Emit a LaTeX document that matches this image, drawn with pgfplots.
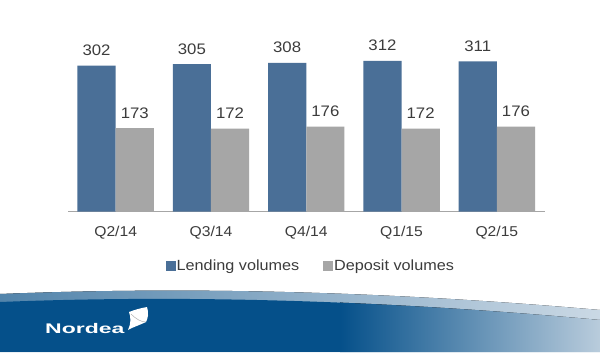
\documentclass[border=0pt]{standalone}
\usepackage{pgfplots}
\pgfplotsset{compat=1.18}
\usepackage{fontspec}
\setmainfont{Liberation Sans}[FakeStretch=1.1]
\newfontfamily\logofont{Liberation Sans}
\definecolor{lend}{HTML}{4A6F97}
\definecolor{depo}{HTML}{A6A6A6}
\definecolor{txt}{HTML}{3C3C3C}
\definecolor{nblue}{HTML}{05508A}
\definecolor{nlight}{HTML}{B9CCDC}
\definecolor{nstripe}{HTML}{5284AB}
\begin{document}
\begin{tikzpicture}[x=1bp,y=1bp]
\path[use as bounding box, fill=white] (0,0) rectangle (600,352);
% footer band
\begin{scope}
\clip (0,0) -- (0,58) .. controls (150,64) and (350,64) .. (600,42) -- (600,0) -- cycle;
\fill[left color=nstripe, right color=nlight!75!white] (0,0) rectangle (600,70);
\begin{scope}
\clip (0,0) -- (0,50) .. controls (150,56) and (350,55) .. (600,32) -- (600,0) -- cycle;
\fill[nblue] (0,0) rectangle (341,70);
\fill[left color=nblue, right color=nlight] (340,0) rectangle (600,70);
\end{scope}
\end{scope}
\node[anchor=base west, text=white, inner sep=0, font=\logofont\bfseries\fontsize{14}{14}\selectfont] at (45,19) {\scalebox{1.65}[1]{Nordea}};
\fill[white] (129,40) .. controls (134,42) and (141,44) .. (147,45) .. controls (149,39) and (148,34) .. (146,30) .. controls (140,27) and (133,25) .. (128,22) .. controls (131,28) and (131,35) .. cycle;
\draw[black!30, line width=0.5bp] (131,38) .. controls (136,33) and (141,30) .. (146,30);
\begin{axis}[
  at={(68bp,140.3bp)}, anchor=south west,
  scale only axis, width=476.5bp, height=193.4bp,
  xmin=-0.5, xmax=4.5, ymin=0, ymax=400,
  ybar=0pt, bar width=38.2bp,
  axis x line*=bottom, axis y line=none,
  x axis line style={draw=black!35, line width=0.8bp},
  xtick=data, xticklabels={Q2/14,Q3/14,Q4/14,Q1/15,Q2/15},
  major tick length=0pt,
  /pgf/number format/assume math mode=true,
  xticklabel style={anchor=base, yshift=-25bp, inner sep=0pt, text=txt, font=\fontsize{14.3}{14.3}\selectfont},
  nodes near coords,
  nodes near coords style={anchor=base, yshift=10bp, inner sep=0pt, text=txt, font=\fontsize{15.3}{15.3}\selectfont},
  clip=false,
  legend columns=2,
  legend style={at={(axis description cs:0.5,0)}, anchor=center, yshift=-54bp, xshift=4bp, draw=none, fill=none,
    font=\fontsize{14.8}{14.8}\selectfont, text=txt,
    nodes={inner sep=0.8bp},
    /tikz/every even column/.append style={column sep=23bp}},
  legend image code/.code={\fill[#1] (0bp,-5.1bp) rectangle (10.2bp,5.1bp);},
]
\addplot[fill=lend, draw=none] coordinates {(0,302) (1,305) (2,308) (3,312) (4,311)};
\addplot[fill=depo, draw=none] coordinates {(0,173) (1,172) (2,176) (3,172) (4,176)};
\legend{Lending volumes, Deposit volumes}
\end{axis}
\end{tikzpicture}
\end{document}
